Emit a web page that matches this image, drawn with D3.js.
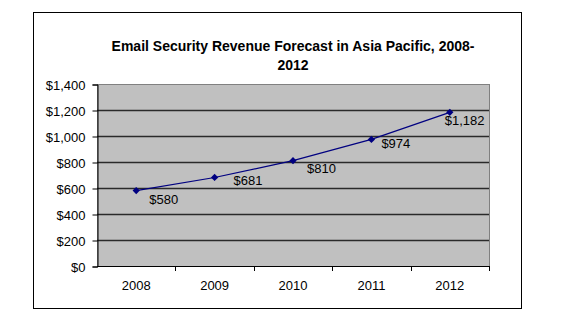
<!DOCTYPE html>
<html>
<head>
<meta charset="utf-8">
<script src="https://cdn.jsdelivr.net/npm/d3@7/dist/d3.min.js"></script>
<style>
  body { margin: 0; background: #fff; }
  svg text { font-family: "Liberation Sans", Arial, sans-serif; fill: #000; }
</style>
</head>
<body>
<div id="chart"></div>
<script>
// data
const years = ["2008", "2009", "2010", "2011", "2012"];
const revenue = [580, 681, 810, 974, 1182];
const yTicks = [0, 200, 400, 600, 800, 1000, 1200, 1400];
const titleLines = ["Email Security Revenue Forecast in Asia Pacific, 2008-", "2012"];

const w = 567, h = 325;
const plot = { left: 97, right: 489, top: 84, bottom: 266 };
// hand-placed data labels in the original, nudged per point
const labelNudge = [[13, 9], [19, 3], [14, 8], [10, 4], [-5, 8]];

const fmt = (v) => "$" + d3.format(",")(v);

const svg = d3.select("#chart").append("svg")
  .attr("width", w)
  .attr("height", h);

// chart frame
svg.append("rect")
  .attr("x", 33.5).attr("y", 12.5)
  .attr("width", 488).attr("height", 296)
  .attr("fill", "#fff")
  .attr("stroke", "#000")
  .attr("stroke-width", 1);

svg.append("text")
  .attr("text-anchor", "middle")
  .attr("font-size", "14px")
  .attr("font-weight", "bold")
  .selectAll("tspan")
  .data(titleLines)
  .join("tspan")
  .attr("x", (plot.left + plot.right) / 2)
  .attr("y", (d, i) => 51 + i * 19)
  .text(d => d);

const xScale = d3.scaleBand()
  .domain(years)
  .range([plot.left, plot.right]);

const yScale = d3.scaleLinear()
  .domain([0, 1400])
  .range([plot.bottom, plot.top]);

// plot area
svg.append("rect")
  .attr("x", plot.left + 0.5).attr("y", plot.top + 0.5)
  .attr("width", plot.right - plot.left).attr("height", plot.bottom - plot.top)
  .attr("fill", "#c0c0c0")
  .attr("stroke", "#808080");

// gridlines
svg.append("g")
  .selectAll("line")
  .data(yTicks.filter(t => t > 0 && t < 1400))
  .join("line")
  .attr("x1", plot.left).attr("x2", plot.right)
  .attr("y1", d => Math.round(yScale(d)) + 0.5)
  .attr("y2", d => Math.round(yScale(d)) + 0.5)
  .attr("stroke", "#2a2a2a")
  .attr("stroke-width", 1.3);

// y axis
const leftAxis = d3.axisLeft(yScale)
  .tickValues(yTicks)
  .tickFormat(fmt)
  .tickSize(5)
  .tickPadding(7);

const gy = svg.append("g")
  .attr("transform", `translate(${plot.left + 0.5}, 0.5)`)
  .call(leftAxis);
gy.selectAll("text").attr("font-size", "13px").attr("font-family", null).attr("dy", "0.35em");
gy.selectAll("line, path").attr("stroke", "#000");

// x axis: labels centred, ticks on the category boundaries
const bottomAxis = d3.axisBottom(xScale)
  .tickSize(0)
  .tickPadding(14);

const gx = svg.append("g")
  .attr("transform", `translate(0, ${plot.bottom + 0.5})`)
  .call(bottomAxis);
gx.select(".domain").remove();
gx.selectAll("text").attr("font-size", "13px").attr("font-family", null);

svg.append("line")
  .attr("x1", plot.left).attr("x2", plot.right + 1)
  .attr("y1", plot.bottom + 0.5).attr("y2", plot.bottom + 0.5)
  .attr("stroke", "#000");

svg.append("g")
  .selectAll("line")
  .data(years.map(y => xScale(y) + xScale.bandwidth()))
  .join("line")
  .attr("x1", d => Math.round(d) + 0.5).attr("x2", d => Math.round(d) + 0.5)
  .attr("y1", plot.bottom).attr("y2", plot.bottom + 5)
  .attr("stroke", "#000");

// series
const cx = (d, i) => xScale(years[i]) + xScale.bandwidth() / 2;

const line = d3.line()
  .x(cx)
  .y(d => yScale(d));

svg.append("path")
  .attr("d", line(revenue))
  .attr("fill", "none")
  .attr("stroke", "#000080")
  .attr("stroke-width", 1.2);

svg.append("g")
  .selectAll("path")
  .data(revenue)
  .join("path")
  .attr("d", d3.symbol(d3.symbolDiamond2, 34))
  .attr("transform", (d, i) => `translate(${cx(d, i)}, ${yScale(d)})`)
  .attr("fill", "#000080");

svg.append("g")
  .selectAll("text")
  .data(revenue)
  .join("text")
  .attr("x", (d, i) => cx(d, i) + labelNudge[i][0])
  .attr("y", (d, i) => yScale(d) + labelNudge[i][1])
  .attr("dy", "0.35em")
  .attr("font-size", "13px")
  .text(fmt);
</script>
</body>
</html>
